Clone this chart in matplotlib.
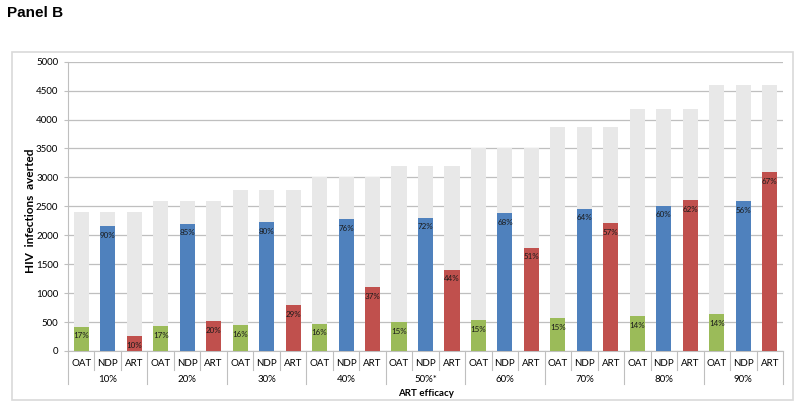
import matplotlib
matplotlib.use("Agg")
import matplotlib.pyplot as plt
from matplotlib.patches import Rectangle
import matplotlib.transforms as mtransforms

groups = ["10%", "20%", "30%", "40%", "50%*", "60%", "70%", "80%", "90%"]
series = ["OAT", "NDP", "ART"]
totals = [2400, 2590, 2775, 3010, 3200, 3505, 3870, 4185, 4590]
oat = [420, 432, 449, 472, 501, 536, 570, 599, 639]
ndp = [2154, 2200, 2229, 2281, 2304, 2385, 2460, 2512, 2592]
art = [253, 518, 795, 1106, 1406, 1786, 2206, 2610, 3088]
oat_pct = ["17%", "17%", "16%", "16%", "15%", "15%", "15%", "14%", "14%"]
ndp_pct = ["90%", "85%", "80%", "76%", "72%", "68%", "64%", "60%", "56%"]
art_pct = ["10%", "20%", "29%", "37%", "44%", "51%", "57%", "62%", "67%"]
yticks = [0, 500, 1000, 1500, 2000, 2500, 3000, 3500, 4000, 4500, 5000]

colors = {"OAT": "#9BBB59", "NDP": "#4F81BD", "ART": "#C0504D"}
grey = "#E8E8E8"
font = "Lato"

fig = plt.figure(figsize=(8, 4.08), dpi=100)
fig.patches.append(Rectangle((12 / 800, 1 - 400 / 408), 781 / 800, 348 / 408,
                             transform=fig.transFigure, fill=False,
                             edgecolor="#D9D9D9", linewidth=1.2))
fig.text(7 / 800, 1 - 13 / 408, "Panel B", fontsize=11, fontweight="bold",
         family="Liberation Sans", va="center", ha="left")

ax = fig.add_axes([68 / 800, 1 - 351 / 408, 715 / 800, (351 - 61.7) / 408])
ax.set_xlim(-0.5, 26.5)
ax.set_ylim(0, 5000)

vals = {"OAT": oat, "NDP": ndp, "ART": art}
pcts = {"OAT": oat_pct, "NDP": ndp_pct, "ART": art_pct}
w = 0.57
for g in range(len(groups)):
    for s, name in enumerate(series):
        x = g * 3 + s
        ax.bar(x, totals[g], width=w, color=grey, zorder=2)
        v = vals[name][g]
        ax.bar(x, v, width=w, color=colors[name], zorder=3)
        ax.annotate(pcts[name][g], (x, v), xytext=(0, -6.5), textcoords="offset points",
                    ha="center", va="center", fontsize=5.8, family=font,
                    color="#1a1a1a", zorder=4)

ax.set_yticks(yticks)
ax.set_yticklabels([str(t) for t in yticks], fontsize=7, family=font)
ax.yaxis.grid(True, color="#BFBFBF", linewidth=0.9, zorder=0)
ax.set_axisbelow(True)
ax.tick_params(axis="y", length=3, color="#BFBFBF", pad=4)
for sp in ["top", "right"]:
    ax.spines[sp].set_visible(False)
ax.spines["left"].set_color("#BFBFBF")
ax.spines["bottom"].set_color("#BFBFBF")

ax.set_xticks([])
trans = mtransforms.blended_transform_factory(ax.transData, ax.transAxes)
px = 1 / (351 - 61.7)  # one pixel in axes fraction (vertical)
n = len(groups) * 3
for i in range(n + 1):
    xb = i - 0.5
    low = 33 if i % 3 == 0 else 19
    ax.plot([xb, xb], [0, -low * px], transform=trans, color="#BFBFBF",
            linewidth=0.8, clip_on=False)
for i in range(n):
    ax.text(i, -12 * px, series[i % 3], transform=trans, ha="center", va="center",
            fontsize=7, family=font)
for g, lab in enumerate(groups):
    ax.text(g * 3 + 1, -28.5 * px, lab, transform=trans, ha="center", va="center",
            fontsize=7, family=font)
ax.text(0.5, -42 * px, "ART efficacy", transform=ax.transAxes, ha="center",
        va="center", fontsize=7, fontweight="bold", family=font)
fig.text(30 / 800, 1 - 211 / 408, "HIV  infections  averted", rotation=90,
         ha="center", va="center", fontsize=8.5, fontweight="bold", family=font)

fig.savefig("out.png", dpi=100)
